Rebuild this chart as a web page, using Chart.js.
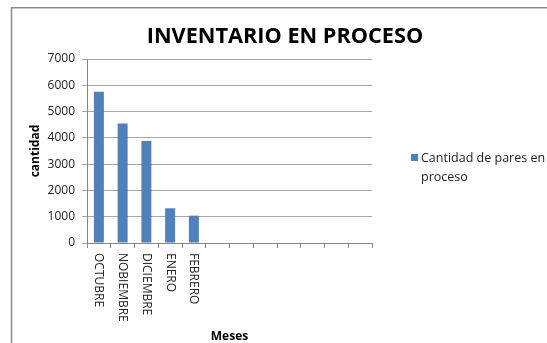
<!DOCTYPE html>
<html>
<head>
<meta charset="utf-8">
<script src="https://cdn.jsdelivr.net/npm/chart.js@4"></script>
<style>
  html, body { margin: 0; padding: 0; background: #fff; }
  #wrap { position: relative; width: 547px; height: 343px; }
</style>
</head>
<body>
<div id="wrap"><canvas id="chart" width="547" height="343"></canvas></div>
<script>
// Meses del inventario (las columnas vacías completan el eje)
const meses = ["OCTUBRE", "NOBIEMBRE", "DICIEMBRE", "ENERO", "FEBRERO", "", "", "", "", "", "", ""]
const paresEnProceso = [5750, 4550, 3880, 1320, 1040, null, null, null, null, null, null, null]
const yTicks = [0, 1000, 2000, 3000, 4000, 5000, 6000, 7000]

const FONT = "'Open Sans', 'Noto Sans', sans-serif"
const BAR_COLOR = "#4f81bd"

// Frame, title, rotated month labels, axis name and legend
const decorations = {
  id: "decorations",
  beforeDraw(chart) {
    const ctx = chart.ctx
    ctx.save()
    ctx.strokeStyle = "#8c8c8c"
    ctx.lineWidth = 1.5
    ctx.beginPath()
    ctx.moveTo(11.5, 343)
    ctx.lineTo(11.5, 7.75)
    ctx.lineTo(547, 7.75)
    ctx.stroke()
    ctx.restore()
  },
  afterDraw(chart) {
    const ctx = chart.ctx
    const x = chart.scales.x
    const area = chart.chartArea
    ctx.save()

    // title
    ctx.fillStyle = "#000"
    ctx.font = "bold 21.7px " + FONT
    ctx.textAlign = "center"
    ctx.textBaseline = "alphabetic"
    ctx.fillText("INVENTARIO EN PROCESO", 285, 43)

    // month labels, read top to bottom
    ctx.font = "12px " + FONT
    ctx.fillStyle = "#222"
    meses.forEach((m, i) => {
      if (!m) return
      const px = x.getPixelForTick(i)
      ctx.save()
      ctx.translate(px, area.bottom + 10)
      ctx.rotate(Math.PI / 2)
      ctx.textAlign = "left"
      ctx.textBaseline = "middle"
      ctx.fillText(m, 0, 0)
      ctx.restore()
    })

    // x axis name
    ctx.font = "bold 12px " + FONT
    ctx.fillStyle = "#000"
    ctx.textAlign = "center"
    ctx.textBaseline = "middle"
    ctx.fillText("Meses", (area.left + area.right) / 2, 337)

    // legend
    const ds = chart.data.datasets[0]
    ctx.fillStyle = BAR_COLOR
    ctx.fillRect(411, 154, 7, 7)
    ctx.fillStyle = "#222"
    ctx.font = "12.5px " + FONT
    ctx.textAlign = "left"
    const words = ds.label.split(" ")
    ctx.fillText(words.slice(0, 4).join(" "), 421, 158)
    ctx.fillText(words.slice(4).join(" "), 421, 177)

    ctx.restore()
  }
}

new Chart(document.getElementById("chart"), {
  type: "bar",
  data: {
    labels: meses,
    datasets: [{
      label: "Cantidad de pares en proceso",
      data: paresEnProceso,
      backgroundColor: BAR_COLOR,
      barPercentage: 0.42,
      categoryPercentage: 1
    }]
  },
  options: {
    responsive: false,
    animation: false,
    layout: { padding: { left: 12, top: 59, right: 175, bottom: 0 } },
    plugins: {
      legend: { display: false },
      title: { display: false },
      tooltip: { enabled: false }
    },
    scales: {
      x: {
        afterFit(scale) { scale.height = 100 },
        grid: {
          offset: true,
          drawOnChartArea: false,
          color: "#868686",
          tickLength: 5
        },
        border: { color: "#868686" },
        ticks: { display: false }
      },
      y: {
        min: 0,
        max: 7000,
        afterFit(scale) { scale.width = 75 },
        afterBuildTicks(scale) { scale.ticks = yTicks.map(v => ({ value: v })) },
        grid: { color: "#a6a6a6", tickLength: 5 },
        border: { color: "#868686" },
        ticks: {
          color: "#222",
          font: { family: FONT, size: 12 },
          padding: 7,
          callback: (v) => String(v)
        },
        title: {
          display: true,
          text: "cantidad",
          color: "#000",
          font: { family: FONT, size: 12, weight: "bold" },
          padding: { top: 16, bottom: 0 }
        }
      }
    }
  },
  plugins: [decorations]
})
</script>
</body>
</html>
